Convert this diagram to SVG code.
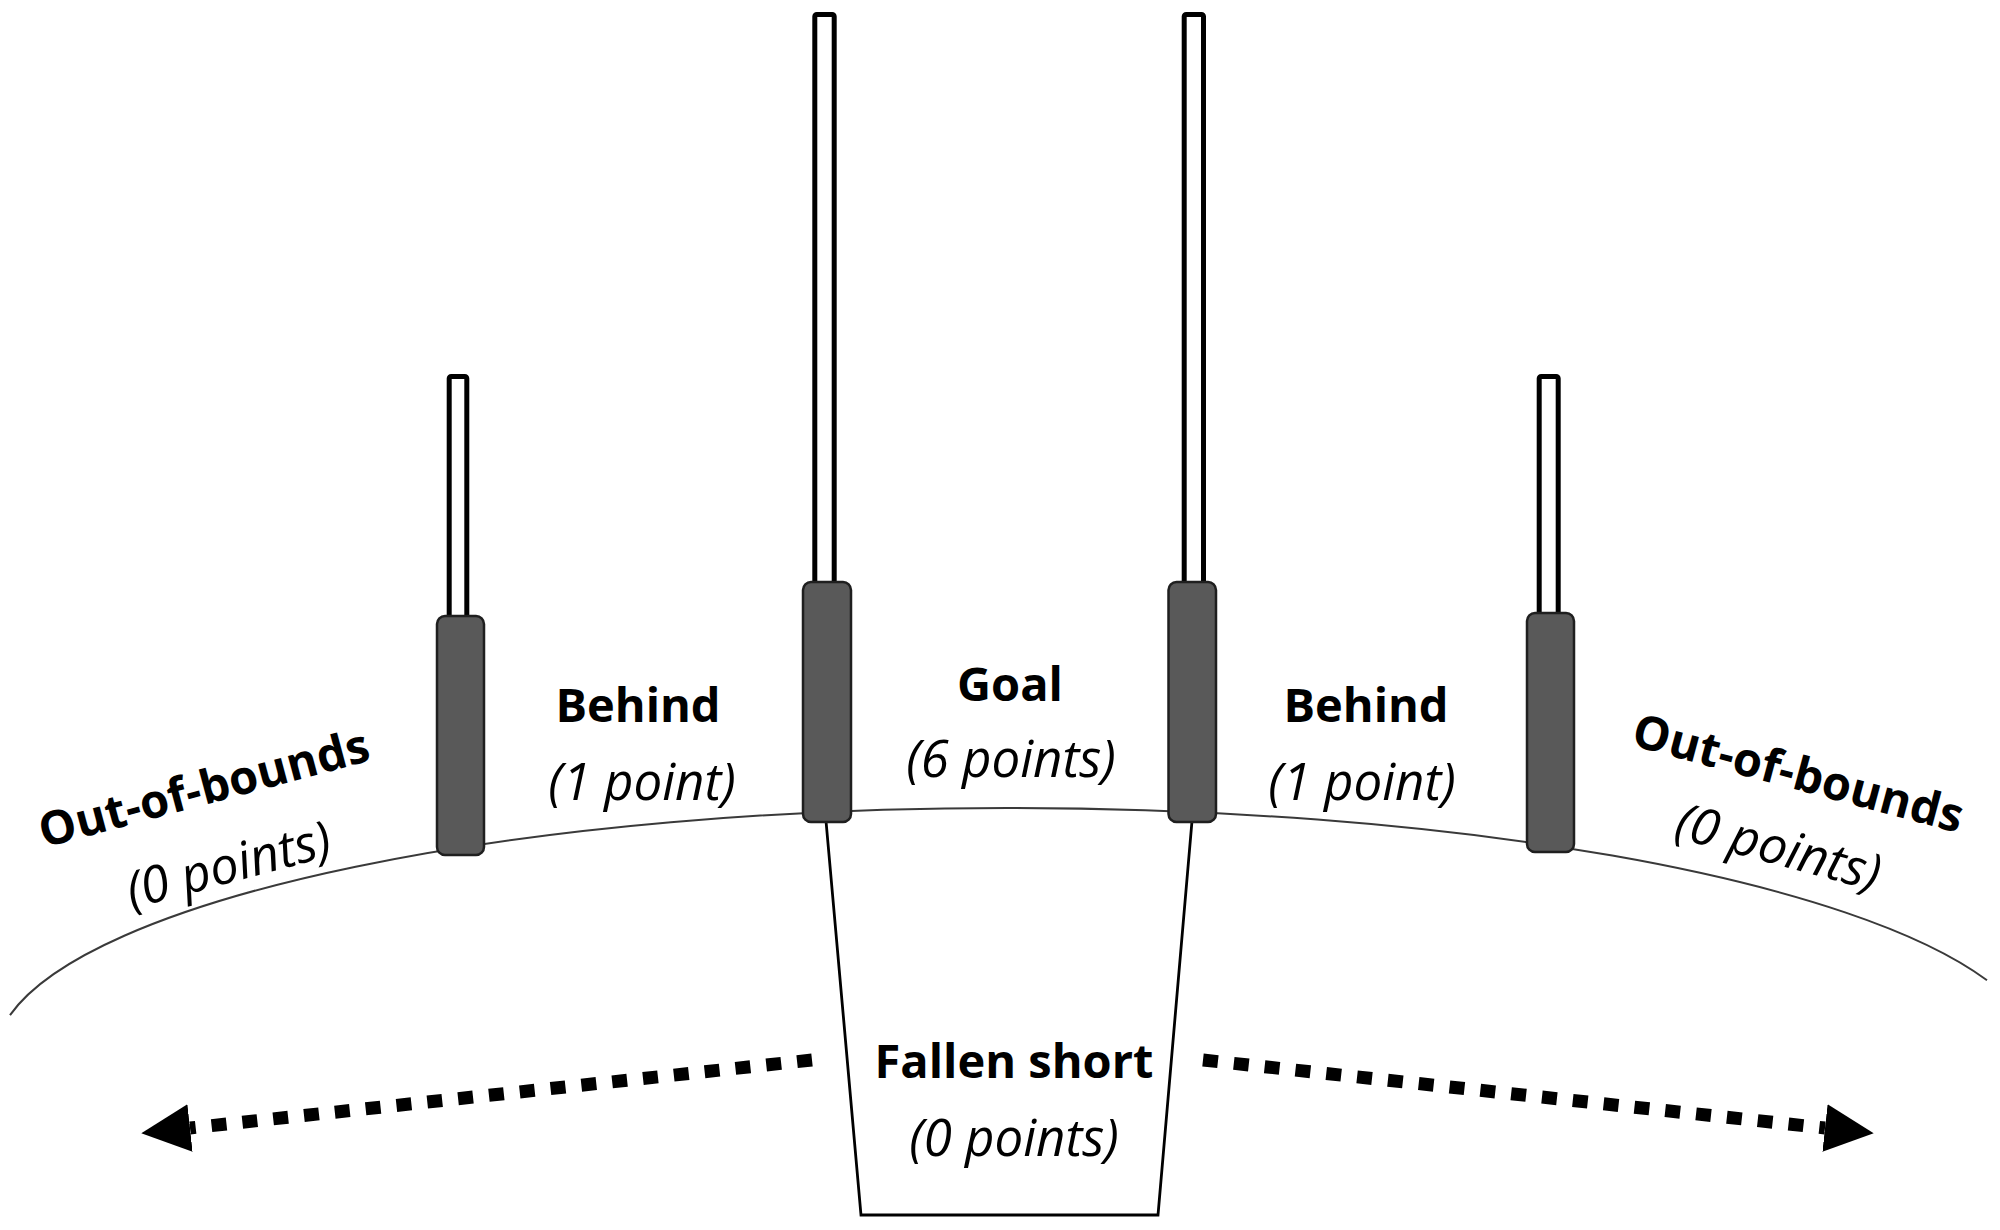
<svg xmlns="http://www.w3.org/2000/svg" width="2000" height="1230" viewBox="0 0 2000 1230">
  <style>
    .upright { fill: #ffffff; stroke: #000000; stroke-width: 5; }
    .base { fill: #595959; stroke: #1f1f1f; stroke-width: 2.5; }
    .ground { fill: none; stroke: #3a3a3a; stroke-width: 2; }
    .box { fill: none; stroke: #000000; stroke-width: 2.8; stroke-linejoin: miter; }
    .lbl { font-family: "Open Sans", "Noto Sans", "Liberation Sans", sans-serif; font-weight: 700; font-size: 47px; fill: #000000; text-anchor: middle; }
    .pts { font-family: "Open Sans", "Noto Sans", "Liberation Sans", sans-serif; font-style: italic; font-size: 51px; fill: #000000; text-anchor: middle; }
    .dash { fill: none; stroke: #000000; stroke-width: 13; stroke-dasharray: 15 16; stroke-linecap: butt; }
  </style>
  <defs>
    <marker id="head" markerUnits="userSpaceOnUse" markerWidth="52" markerHeight="50" refX="0" refY="24" orient="auto">
      <path d="M0,0 L49,24 L0,48 Z" fill="#000000"/>
    </marker>
  </defs>
  <rect width="2000" height="1230" fill="#ffffff"/>

  <g id="ground">
    <path class="ground" d="M10,1015.1 A1012,250 0 0 1 1007,808 A1031,250 0 0 1 1987,980.3"/>
  </g>

  <g id="fallen-short-zone">
    <path class="box" d="M826,821 L861,1215 L1158,1215 L1192,821"/>
  </g>

  <g id="post-behind-left">
    <rect class="upright" x="449.2" y="376.5" width="17.6" height="250" rx="2"/>
    <rect class="base" x="437" y="616" width="47" height="239" rx="8"/>
  </g>
  <g id="post-goal-left">
    <rect class="upright" x="814.8" y="14.5" width="19.4" height="580" rx="2"/>
    <rect class="base" x="803" y="582" width="48" height="240" rx="8"/>
  </g>
  <g id="post-goal-right">
    <rect class="upright" x="1184.2" y="14.5" width="19.3" height="580" rx="2"/>
    <rect class="base" x="1168.5" y="582" width="47.5" height="240" rx="8"/>
  </g>
  <g id="post-behind-right">
    <rect class="upright" x="1539.2" y="376.5" width="19" height="250" rx="2"/>
    <rect class="base" x="1527" y="613" width="47" height="239" rx="8"/>
  </g>

  <g id="label-oob-left">
    <text class="lbl" transform="translate(208,804) rotate(-15)" x="0" y="0">Out-of-bounds</text>
    <text class="pts" transform="translate(233,882) rotate(-15)" x="0" y="0">(0 points)</text>
  </g>
  <g id="label-behind-left">
    <text class="lbl" x="638" y="722">Behind</text>
    <text class="pts" x="642" y="800">(1 point)</text>
  </g>
  <g id="label-goal">
    <text class="lbl" x="1010" y="701">Goal</text>
    <text class="pts" x="1011" y="777">(6 points)</text>
  </g>
  <g id="label-behind-right">
    <text class="lbl" x="1366" y="722">Behind</text>
    <text class="pts" x="1362" y="800">(1 point)</text>
  </g>
  <g id="label-oob-right">
    <text class="lbl" transform="translate(1794,789) rotate(15)" x="0" y="0">Out-of-bounds</text>
    <text class="pts" transform="translate(1774,864) rotate(15)" x="0" y="0">(0 points)</text>
  </g>
  <g id="label-fallen-short">
    <text class="lbl" x="1014" y="1078">Fallen short</text>
    <text class="pts" x="1014" y="1156">(0 points)</text>
  </g>

  <g id="connectors">
    <path class="dash" d="M812,1060 L190,1128" marker-end="url(#head)"/>
    <path class="dash" d="M1203,1060 L1825,1128" marker-end="url(#head)"/>
  </g>
</svg>
